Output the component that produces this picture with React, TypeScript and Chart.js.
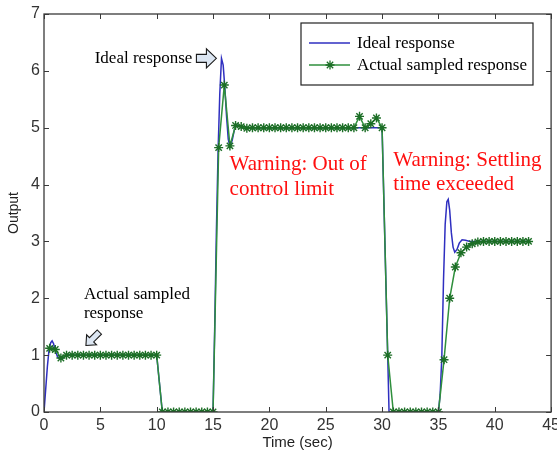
import React, { useEffect, useRef } from "react";
import { Chart, registerables } from "chart.js";

Chart.register(...registerables);

// ---------- data ----------
const seriesLabels = ["Ideal response", "Actual sampled response"];

const idealTime = [
  0, 0.15, 0.3, 0.45, 0.6, 0.72, 0.85, 1.0, 1.2, 1.4,
  1.6, 1.85, 2.1, 2.5, 10.0, 10.5, 15.0, 15.15, 15.3, 15.45,
  15.6, 15.75, 15.9, 16.05, 16.2, 16.35, 16.5, 16.7, 16.9, 17.1,
  17.4, 17.8, 30.0, 30.5, 30.62, 35.0, 35.15, 35.3, 35.45, 35.6,
  35.75, 35.87, 36.0, 36.15, 36.3, 36.45, 36.65, 36.85, 37.1, 37.4,
  37.8, 43.0,
];
const idealValue = [
  0, 0.4, 0.8, 1.1, 1.22, 1.25, 1.2, 1.08, 0.97, 0.93,
  0.94, 0.98, 1.01, 1.0, 1.0, 0, 0, 1.5, 3.2, 4.6,
  5.6, 6.22, 6.1, 5.7, 5.2, 4.8, 4.67, 4.78, 4.97, 5.05,
  5.02, 5.0, 5.0, 1.0, 0, 0, 0.3, 0.95, 2.3, 3.3,
  3.7, 3.74, 3.55, 3.15, 2.9, 2.81, 2.86, 2.97, 3.03, 3.02,
  3.0, 3.0,
];

const sampledTime = [
  0.5, 1, 1.5, 2, 2.5, 3, 3.5, 4, 4.5, 5,
  5.5, 6, 6.5, 7, 7.5, 8, 8.5, 9, 9.5, 10,
  10.5, 11, 11.5, 12, 12.5, 13, 13.5, 14, 14.5, 15,
  15.5, 16, 16.5, 17, 17.5, 18, 18.5, 19, 19.5, 20,
  20.5, 21, 21.5, 22, 22.5, 23, 23.5, 24, 24.5, 25,
  25.5, 26, 26.5, 27, 27.5, 28, 28.5, 29, 29.5, 30,
  30.5, 31, 31.5, 32, 32.5, 33, 33.5, 34, 34.5, 35,
  35.5, 36, 36.5, 37, 37.5, 38, 38.5, 39, 39.5, 40,
  40.5, 41, 41.5, 42, 42.5, 43,
];
const sampledValue = [
  1.12, 1.1, 0.95, 1.0, 1.0, 1.0, 1.0, 1.0, 1.0, 1.0,
  1.0, 1.0, 1.0, 1.0, 1.0, 1.0, 1.0, 1.0, 1.0, 1.0,
  0, 0, 0, 0, 0, 0, 0, 0, 0, 0,
  4.65, 5.75, 4.68, 5.04, 5.02, 4.99, 5.0, 5.0, 5.0, 5.0,
  5.0, 5.0, 5.0, 5.0, 5.0, 5.0, 5.0, 5.0, 5.0, 5.0,
  5.0, 5.0, 5.0, 5.0, 5.0, 5.2, 5.0, 5.07, 5.17, 5.0,
  1.0, 0, 0, 0, 0, 0, 0, 0, 0, 0,
  0.92, 2.0, 2.55, 2.8, 2.9, 2.96, 2.99, 3.0, 3.0, 3.0,
  3.0, 3.0, 3.0, 3.0, 3.0, 3.0,
];

const xTicks = [0, 5, 10, 15, 20, 25, 30, 35, 40, 45];
const yTicks = [0, 1, 2, 3, 4, 5, 6, 7];

const xTitle = "Time (sec)";
const yTitle = "Output";

const idealNote = "Ideal response";
const sampledNote = ["Actual sampled", "response"];
const warning1 = ["Warning: Out of", "control limit"];
const warning2 = ["Warning: Settling", "time exceeded"];

// ---------- styles ----------
const BLUE = "#2f2fc0";
const GREEN = "#2f8f3c";
const STAR = "#1c6e26";
const AXIS = "#3a3a3a";
const SERIF = "'Liberation Serif', 'Times New Roman', serif";
const SANS = "'Liberation Sans', Arial, sans-serif";

function drawBlockArrow(
  ctx: CanvasRenderingContext2D,
  tipX: number,
  tipY: number,
  angle: number,
  len: number,
  shaftW: number,
  headW: number,
  headLen: number
) {
  ctx.save();
  ctx.translate(tipX, tipY);
  ctx.rotate(angle);
  ctx.beginPath();
  ctx.moveTo(0, 0);
  ctx.lineTo(-headLen, -headW / 2);
  ctx.lineTo(-headLen, -shaftW / 2);
  ctx.lineTo(-len, -shaftW / 2);
  ctx.lineTo(-len, shaftW / 2);
  ctx.lineTo(-headLen, shaftW / 2);
  ctx.lineTo(-headLen, headW / 2);
  ctx.closePath();
  ctx.fillStyle = "#dce6f2";
  ctx.fill();
  ctx.strokeStyle = "#1a1a1a";
  ctx.lineWidth = 1.1;
  ctx.lineJoin = "miter";
  ctx.stroke();
  ctx.restore();
}

function drawStar(ctx: CanvasRenderingContext2D, x: number, y: number, r: number) {
  ctx.save();
  ctx.strokeStyle = STAR;
  ctx.lineWidth = 1.3;
  ctx.beginPath();
  ctx.moveTo(x - r, y);
  ctx.lineTo(x + r, y);
  ctx.moveTo(x, y - r);
  ctx.lineTo(x, y + r);
  const d = r * 0.7071;
  ctx.moveTo(x - d, y - d);
  ctx.lineTo(x + d, y + d);
  ctx.moveTo(x - d, y + d);
  ctx.lineTo(x + d, y - d);
  ctx.stroke();
  ctx.restore();
}

const decorPlugin = {
  id: "decor",
  afterDatasetsDraw(chart: any) {
    const ctx: CanvasRenderingContext2D = chart.ctx;
    const { left, right, top, bottom } = chart.chartArea;
    const xs = chart.scales.x;
    const ys = chart.scales.y;

    ctx.save();
    // inward ticks on all four sides
    ctx.strokeStyle = AXIS;
    ctx.lineWidth = 1;
    const tl = 5;
    ctx.beginPath();
    xTicks.forEach((v) => {
      const px = Math.round(xs.getPixelForValue(v)) + 0.5;
      ctx.moveTo(px, bottom);
      ctx.lineTo(px, bottom - tl);
      ctx.moveTo(px, top);
      ctx.lineTo(px, top + tl);
    });
    yTicks.forEach((v) => {
      const py = Math.round(ys.getPixelForValue(v)) + 0.5;
      ctx.moveTo(left, py);
      ctx.lineTo(left + tl, py);
      ctx.moveTo(right, py);
      ctx.lineTo(right - tl, py);
    });
    ctx.stroke();

    // axes box
    ctx.lineWidth = 1.3;
    ctx.strokeStyle = AXIS;
    ctx.strokeRect(left, top, right - left, bottom - top);

    // annotation: ideal response arrow + text
    const aTipX = xs.getPixelForValue(15.3);
    const aTipY = ys.getPixelForValue(6.22);
    drawBlockArrow(ctx, aTipX, aTipY, 0, 20, 8, 19, 10);
    ctx.fillStyle = "#000";
    ctx.font = `17px ${SERIF}`;
    ctx.textAlign = "right";
    ctx.textBaseline = "alphabetic";
    ctx.fillText(idealNote, aTipX - 24, aTipY + 5);

    // annotation: actual sampled response
    const sx = xs.getPixelForValue(3.54);
    const sy = ys.getPixelForValue(1.99);
    ctx.textAlign = "left";
    ctx.fillText(sampledNote[0], sx, sy);
    ctx.fillText(sampledNote[1], sx, sy + 19);
    drawBlockArrow(
      ctx,
      xs.getPixelForValue(3.72),
      ys.getPixelForValue(1.17),
      (3 * Math.PI) / 4,
      19,
      6,
      14,
      8
    );

    // warnings
    ctx.fillStyle = "#ff1010";
    ctx.font = `21px ${SERIF}`;
    const w1x = xs.getPixelForValue(16.47);
    const w1y = ys.getPixelForValue(4.25);
    ctx.fillText(warning1[0], w1x, w1y);
    ctx.fillText(warning1[1], w1x, w1y + 25);
    const w2x = xs.getPixelForValue(31.0);
    const w2y = ys.getPixelForValue(4.32);
    ctx.fillText(warning2[0], w2x, w2y);
    ctx.fillText(warning2[1], w2x, w2y + 24);

    // legend
    const lx = 301;
    const ly = 23;
    const lw = 232;
    const lh = 62;
    ctx.fillStyle = "#fff";
    ctx.fillRect(lx, ly, lw, lh);
    ctx.strokeStyle = "#222";
    ctx.lineWidth = 1.2;
    ctx.strokeRect(lx, ly, lw, lh);

    ctx.lineWidth = 1.5;
    ctx.strokeStyle = BLUE;
    ctx.beginPath();
    ctx.moveTo(lx + 8, ly + 20);
    ctx.lineTo(lx + 49, ly + 20);
    ctx.stroke();
    ctx.strokeStyle = GREEN;
    ctx.beginPath();
    ctx.moveTo(lx + 8, ly + 42);
    ctx.lineTo(lx + 49, ly + 42);
    ctx.stroke();
    drawStar(ctx, lx + 29, ly + 42, 4.5);

    ctx.fillStyle = "#000";
    ctx.font = `17px ${SERIF}`;
    ctx.textAlign = "left";
    ctx.fillText(seriesLabels[0], lx + 56, ly + 25);
    ctx.fillText(seriesLabels[1], lx + 56, ly + 47);

    ctx.restore();
  },
};

export default function App() {
  const canvasRef = useRef<HTMLCanvasElement | null>(null);

  useEffect(() => {
    document.body.style.margin = "0";
    const canvas = canvasRef.current;
    if (!canvas) return;

    const chart = new Chart(canvas, {
      type: "line",
      data: {
        datasets: [
          {
            label: seriesLabels[0],
            data: idealTime.map((t, i) => ({ x: t, y: idealValue[i] })),
            borderColor: BLUE,
            backgroundColor: BLUE,
            borderWidth: 1.5,
            pointRadius: 0,
            tension: 0,
            order: 1,
          },
          {
            label: seriesLabels[1],
            data: sampledTime.map((t, i) => ({ x: t, y: sampledValue[i] })),
            borderColor: GREEN,
            backgroundColor: GREEN,
            borderWidth: 1.5,
            pointStyle: "star",
            pointRadius: 4.5,
            pointBorderWidth: 1.4,
            pointBorderColor: STAR,
            pointBackgroundColor: STAR,
            tension: 0,
            order: 0,
          },
        ],
      },
      options: {
        responsive: false,
        animation: false,
        devicePixelRatio: 1,
        layout: { padding: { top: 14, right: 5, left: 0, bottom: 0 } },
        plugins: {
          legend: { display: false },
          tooltip: { enabled: false },
        },
        scales: {
          x: {
            type: "linear",
            min: 0,
            max: 45,
            grid: { display: false, drawTicks: false },
            border: { display: false },
            afterBuildTicks: (s: any) => {
              s.ticks = xTicks.map((v) => ({ value: v }));
            },
            afterFit: (s: any) => {
              s.height = 40;
              s.paddingLeft = 0;
              s.paddingRight = 0;
            },
            ticks: {
              autoSkip: false,
              maxRotation: 0,
              padding: 4,
              color: "#333",
              font: { family: SANS, size: 16 },
            },
            title: {
              display: true,
              text: xTitle,
              color: "#222",
              font: { family: SANS, size: 15 },
              padding: { top: 0, bottom: 0 },
            },
          },
          y: {
            type: "linear",
            min: 0,
            max: 7,
            grid: { display: false, drawTicks: false },
            border: { display: false },
            afterBuildTicks: (s: any) => {
              s.ticks = yTicks.map((v) => ({ value: v }));
            },
            afterFit: (s: any) => {
              s.width = 44;
              s.paddingTop = 0;
              s.paddingBottom = 0;
            },
            ticks: {
              autoSkip: false,
              padding: 4,
              color: "#333",
              font: { family: SANS, size: 16 },
            },
            title: {
              display: true,
              text: yTitle,
              color: "#222",
              font: { family: SANS, size: 14 },
              padding: { top: 6, bottom: 0 },
            },
          },
        },
      },
      plugins: [decorPlugin],
    });

    return () => {
      chart.destroy();
    };
  }, []);

  return (
    <div
      style={{
        position: "absolute",
        left: 0,
        top: 0,
        width: 557,
        height: 452,
        background: "#fff",
      }}
    >
      <canvas
        ref={canvasRef}
        width={557}
        height={452}
        style={{ display: "block", width: 557, height: 452 }}
      />
    </div>
  );
}
